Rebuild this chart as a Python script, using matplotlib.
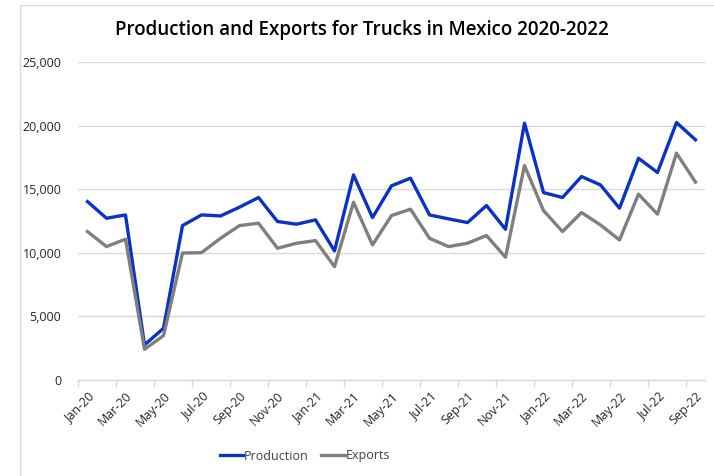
import matplotlib
matplotlib.use("Agg")
import matplotlib.pyplot as plt
from matplotlib.patches import Rectangle
from matplotlib.ticker import FuncFormatter, FixedLocator

months = ["Jan-20", "Feb-20", "Mar-20", "Apr-20", "May-20", "Jun-20", "Jul-20", "Aug-20",
          "Sep-20", "Oct-20", "Nov-20", "Dec-20", "Jan-21", "Feb-21", "Mar-21", "Apr-21",
          "May-21", "Jun-21", "Jul-21", "Aug-21", "Sep-21", "Oct-21", "Nov-21", "Dec-21",
          "Jan-22", "Feb-22", "Mar-22", "Apr-22", "May-22", "Jun-22", "Jul-22", "Aug-22",
          "Sep-22"]

production = [14040, 12730, 12990, 2760, 4070, 12150, 12990, 12910, 13600, 14360, 12470,
              12260, 12600, 10160, 16140, 12780, 15280, 15880, 12990, 12680, 12390, 13730,
              11860, 20210, 14750, 14360, 16010, 15350, 13520, 17450, 16330, 20260, 18900]

exports = [11680, 10500, 11080, 2415, 3490, 9990, 10020, 11150, 12150, 12340, 10370,
           10760, 10970, 8920, 13990, 10630, 12940, 13440, 11150, 10500, 10760, 11370,
           9660, 16880, 13330, 11680, 13180, 12200, 11020, 14620, 13050, 17850, 15570]

title = "Production and Exports for Trucks in Mexico 2020-2022"

W, H = 714, 476
fig = plt.figure(figsize=(W / 100, H / 100), dpi=100)
fig.patch.set_facecolor("white")

# chart-area frame
fig.patches.append(Rectangle((20 / W, -0.1), 1.0, 1.1 - 5 / H, transform=fig.transFigure,
                             fill=False, edgecolor="#d9d9d9", linewidth=1.0))

ax = fig.add_axes([78 / W, 1 - 380 / H, (705 - 78) / W, (380 - 62.3) / H])

x = list(range(len(months)))
ax.plot(x, production, color="#0a32c4", linewidth=2.4, label="Production", solid_joinstyle="round")
ax.plot(x, exports, color="#7f7f7f", linewidth=2.4, label="Exports", solid_joinstyle="round")

ax.set_xlim(-0.5, len(months) - 0.5)
ax.set_ylim(0, 25000)
ax.set_yticks(range(0, 25001, 5000))
ax.yaxis.set_major_formatter(FuncFormatter(lambda v, p: f"{int(v):,}"))
ax.grid(axis="y", color="#d9d9d9", linewidth=1.0)
ax.set_axisbelow(True)

for side in ["top", "right", "left"]:
    ax.spines[side].set_visible(False)
ax.spines["bottom"].set_color("#d9d9d9")
ax.spines["bottom"].set_linewidth(1.0)

# tick marks sit between categories, labels at every second month
ax.xaxis.set_major_locator(FixedLocator([i - 0.5 for i in range(0, len(months), 2)]))
ax.xaxis.set_major_formatter(FuncFormatter(lambda v, p: ""))
ax.xaxis.set_minor_locator(FixedLocator(list(range(0, len(months), 2))))
ax.set_xticklabels([months[i] for i in range(0, len(months), 2)], minor=True)
ax.tick_params(axis="x", which="major", length=5, color="#d9d9d9", width=1.0)
ax.tick_params(axis="x", which="minor", length=0, pad=7, labelsize=9, labelcolor="#262626")
for lbl in ax.get_xticklabels(minor=True):
    lbl.set_rotation(45)
    lbl.set_ha("right")
    lbl.set_rotation_mode("anchor")
    lbl.set_fontfamily("Open Sans")
ax.tick_params(axis="y", length=0, pad=12, labelsize=9, labelcolor="#262626")
for lbl in ax.get_yticklabels():
    lbl.set_fontfamily("Open Sans")

fig.text(362 / W, 1 - 30 / H, title, ha="center", va="center", fontsize=13.5,
         fontfamily="Open Sans", fontweight="semibold", color="black")

leg = fig.legend(loc="center", bbox_to_anchor=(305 / W, 1 - 456 / H), ncol=2, frameon=False,
                 handlelength=1.85, handletextpad=0.1, columnspacing=1.0,
                 prop={"family": "Open Sans", "size": 9})
for t in leg.get_texts():
    t.set_color("#404040")

fig.savefig("out.png", dpi=100)
